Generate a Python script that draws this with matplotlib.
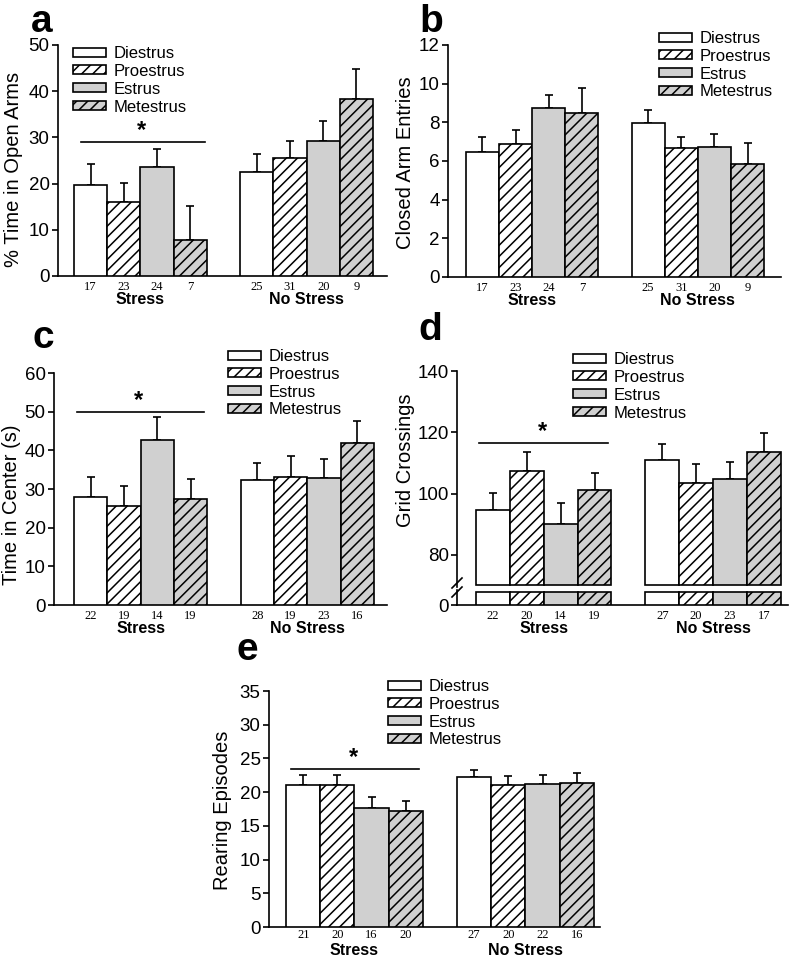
import numpy as np
import matplotlib
matplotlib.use('Agg')
import matplotlib.pyplot as plt
from matplotlib.patches import Patch
from matplotlib.lines import Line2D

W, H = 800, 957
plt.rcParams['font.family'] = ['Liberation Sans', 'DejaVu Sans']
plt.rcParams['hatch.linewidth'] = 1.1

phases = ['Diestrus', 'Proestrus', 'Estrus', 'Metestrus']
groups = ['Stress', 'No Stress']

# order: Stress (Di, Pro, Es, Met), No Stress (Di, Pro, Es, Met)
open_arms = [19.6, 16.0, 23.5, 7.7, 22.5, 25.6, 29.2, 38.4]
open_arms_sem = [4.7, 4.2, 3.9, 7.5, 4.0, 3.6, 4.3, 6.5]
open_arms_n = [17, 23, 24, 7, 25, 31, 20, 9]

closed_arms = [6.45, 6.9, 8.76, 8.46, 7.98, 6.65, 6.7, 5.85]
closed_arms_sem = [0.8, 0.7, 0.65, 1.3, 0.68, 0.6, 0.7, 1.1]
closed_arms_n = [17, 23, 24, 7, 25, 31, 20, 9]

center_time = [28.0, 25.5, 42.8, 27.3, 32.2, 33.2, 32.8, 42.0]
center_sem = [5.0, 5.2, 5.9, 5.2, 4.4, 5.3, 5.0, 5.7]
center_n = [22, 19, 14, 19, 28, 19, 23, 16]

grid = [94.6, 107.5, 90.1, 101.0, 111.1, 103.6, 104.6, 113.4]
grid_sem = [5.6, 5.9, 6.7, 5.8, 5.1, 5.9, 5.6, 6.3]
grid_n = [22, 20, 14, 19, 27, 20, 23, 17]

rearing = [21.1, 21.1, 17.6, 17.2, 22.2, 21.0, 21.2, 21.3]
rearing_sem = [1.5, 1.5, 1.7, 1.5, 1.1, 1.4, 1.4, 1.5]
rearing_n = [21, 20, 16, 20, 27, 20, 22, 16]

# significance bar heights over the Stress group
sig_a, sig_c, sig_d, sig_e = 29.0, 50.0, 116.4, 23.5

xpos = [0, 1, 2, 3, 5, 6, 7, 8]
fills = ['white', 'white', '#d0d0d0', '#d0d0d0']
hatches = [None, '///', None, '///']
LW = 1.2

fig = plt.figure(figsize=(W / 100, H / 100), dpi=100)


def add_ax(l, t, r, b):
    return fig.add_axes([l / W, 1 - b / H, (r - l) / W, (b - t) / H])


def style_ax(ax, yticks, xlim):
    for s in ['top', 'right']:
        ax.spines[s].set_visible(False)
    for s in ['left', 'bottom']:
        ax.spines[s].set_linewidth(LW)
    ax.set_xticks([])
    ax.set_yticks(yticks)
    ax.tick_params(axis='y', direction='out', length=4, width=LW, labelsize=13.5, pad=2)
    ax.set_xlim(*xlim)


def draw_bars(ax, means, sems, bottom=0):
    for i, (x, m, s) in enumerate(zip(xpos, means, sems)):
        k = i % 4
        ax.errorbar(x, m, yerr=[[0], [s]], fmt='none', ecolor='black',
                    elinewidth=LW, capsize=3, capthick=LW, zorder=2)
        ax.bar(x, m - bottom, bottom=bottom, width=1.0, color=fills[k],
               hatch=hatches[k], edgecolor='black', linewidth=LW, zorder=3)


def label_x(ax, ns, dn=-8, dg=-17):
    for x, n in zip(xpos, ns):
        ax.annotate(str(n), xy=(x, 0), xycoords=('data', 'axes fraction'),
                    xytext=(0, dn), textcoords='offset points', ha='center', va='center',
                    fontsize=9, family='Liberation Serif', annotation_clip=False)
    for gx, g in zip([1.5, 6.5], groups):
        ax.annotate(g, xy=(gx, 0), xycoords=('data', 'axes fraction'),
                    xytext=(0, dg), textcoords='offset points', ha='center', va='center',
                    fontsize=11.5, fontweight='bold', annotation_clip=False)


def add_legend(ax, lx, ty):
    handles = [Patch(facecolor=fills[k], hatch=hatches[k], edgecolor='black', linewidth=LW)
               for k in range(4)]
    ax.legend(handles, phases, loc='upper left', bbox_to_anchor=(lx / W, 1 - ty / H),
              bbox_transform=fig.transFigure, frameon=False, borderpad=0, borderaxespad=0,
              handlelength=2.0, handleheight=0.45, handletextpad=0.45, labelspacing=0.17,
              fontsize=12)


def add_sig(ax, y, x0=-0.3, x1=3.45):
    ax.plot([x0, x1], [y, y], color='black', lw=LW, zorder=4)
    ax.text((x0 + x1) / 2 - 0.05, y, '*', ha='center', va='bottom', fontsize=17,
            fontweight='bold', zorder=4)


def ylab(text, x, y):
    fig.text(x / W, 1 - y / H, text, rotation=90, ha='center', va='center', fontsize=14.5)


def letter(ch, x, y):
    fig.text(x / W, 1 - y / H, ch, ha='left', va='baseline', fontsize=28, fontweight='bold')


# a
ax = add_ax(58, 45, 387, 276)
style_ax(ax, np.arange(0, 51, 10), (-0.98, 8.92))
ax.set_ylim(0, 50)
draw_bars(ax, open_arms, open_arms_sem)
label_x(ax, open_arms_n)
add_legend(ax, 73, 46)
add_sig(ax, sig_a)
ylab('% Time in Open Arms', 14, 169)
letter('a', 31, 32)

# b
ax = add_ax(448, 45, 781, 277)
style_ax(ax, np.arange(0, 13, 2), (-1.04, 9.01))
ax.set_ylim(0, 12)
draw_bars(ax, closed_arms, closed_arms_sem)
label_x(ax, closed_arms_n)
add_legend(ax, 659, 31)
ylab('Closed Arm Entries', 406, 163)
letter('b', 419, 32)

# c
ax = add_ax(54, 373, 387, 605)
style_ax(ax, np.arange(0, 61, 10), (-1.1, 8.89))
ax.set_ylim(0, 60)
draw_bars(ax, center_time, center_sem)
label_x(ax, center_n)
add_legend(ax, 228, 349)
add_sig(ax, sig_c, -0.4, 3.4)
ylab('Time in Center (s)', 12, 505)
letter('c', 32, 348)

# d: broken y axis
brk_lo, brk_hi = 4.2, 70
ax = add_ax(457, 371, 788, 587)
style_ax(ax, [80, 100, 120, 140], (-1.06, 8.71))
ax.spines['bottom'].set_visible(False)
ax.set_ylim(69.5, 140)
draw_bars(ax, grid, grid_sem, bottom=brk_hi)
add_legend(ax, 573, 352)
add_sig(ax, sig_d, -0.4, 3.4)
axl = add_ax(457, 590, 788, 605)
style_ax(axl, [0], (-1.06, 8.71))
axl.set_ylim(0, 5)
for i, x in enumerate(xpos):
    k = i % 4
    axl.bar(x, brk_lo, width=1.0, color=fills[k], hatch=hatches[k],
            edgecolor='black', linewidth=LW, zorder=3)
label_x(axl, grid_n)
for yc in [583, 592]:
    fig.add_artist(Line2D([452 / W, 462 / W], [1 - (yc + 5) / H, 1 - (yc - 5) / H],
                          color='black', lw=LW))
ylab('Grid Crossings', 406, 460)
letter('d', 418, 340)

# e
ax = add_ax(269, 691, 600, 927)
style_ax(ax, np.arange(0, 36, 5), (-1.0, 8.68))
ax.set_ylim(0, 35)
draw_bars(ax, rearing, rearing_sem)
label_x(ax, rearing_n, dn=-6, dg=-17)
add_legend(ax, 388, 679)
add_sig(ax, sig_e, -0.35, 3.4)
ylab('Rearing Episodes', 222, 810)
letter('e', 237, 660)

fig.savefig('out.png', dpi=100)
